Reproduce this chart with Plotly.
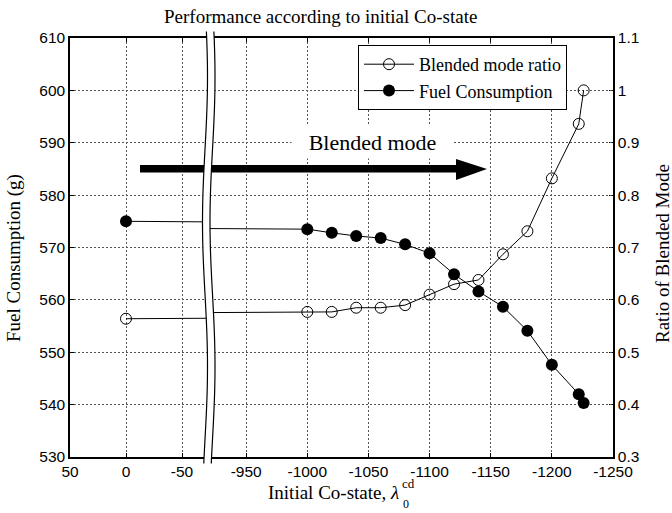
import math
import plotly.graph_objects as go

# ---------------- data ----------------
costate = [0, -1000, -1020, -1040, -1060, -1080, -1100, -1120, -1140, -1160, -1180, -1200, -1222, -1226]
fuel = [575.0, 573.5, 572.8, 572.2, 571.8, 570.6, 568.9, 564.9, 561.6, 558.7, 554.1, 547.6, 542.0, 540.3]
ratio = [0.564, 0.577, 0.577, 0.585, 0.585, 0.590, 0.610, 0.630, 0.638, 0.687, 0.731, 0.832, 0.936, 1.0]

left_ticks = [50, 0, -50]
right_ticks = [-950, -1000, -1050, -1100, -1150, -1200, -1250]
fuel_ticks = [530, 540, 550, 560, 570, 580, 590, 600, 610]
ratio_ticks = [0.3, 0.4, 0.5, 0.6, 0.7, 0.8, 0.9, 1.0, 1.1]
ratio_labels = ["0.3", "0.4", "0.5", "0.6", "0.7", "0.8", "0.9", "1", "1.1"]

# ---------------- layout geometry (pixels) ----------------
W, H = 672, 513
L, R, T, B = 70, 613, 38, 457
PW, PH = R - L, B - T


def xp(px):
    return (px - L) / PW


def yp(py):
    return 1 - (py - T) / PH


LEFT_END = 207.5     # px where left panel ends
RIGHT_START = 210.0  # px where right panel starts
left_range = [50, 50 - (LEFT_END - L) / 1.12]
right_range = [-1250 + (R - RIGHT_START) / 1.2228, -1250]

SERIF = "Liberation Serif, Times New Roman, serif"
SANS = "Liberation Sans, Arial, sans-serif"

fig = go.Figure()

open_marker = dict(symbol="circle-open", size=11, color="black", line=dict(width=1, color="black"))
fill_marker = dict(symbol="circle", size=12, color="black")

for xa, show in (("x", True), ("x2", False)):
    fig.add_trace(go.Scatter(x=costate, y=ratio, mode="lines+markers", name="Blended mode ratio",
                             line=dict(color="black", width=1), marker=open_marker,
                             xaxis=xa, yaxis="y2", showlegend=show, legendrank=1))
    fig.add_trace(go.Scatter(x=costate, y=fuel, mode="lines+markers", name="Fuel Consumption",
                             line=dict(color="black", width=1), marker=fill_marker,
                             xaxis=xa, yaxis="y", showlegend=show, legendrank=2))

grid = dict(showgrid=True, gridcolor="#555555", gridwidth=1, griddash="2px,2px")
axis_common = dict(showline=True, linecolor="black", linewidth=1.5, ticks="inside", ticklen=4,
                   tickcolor="black", tickfont=dict(family=SANS, size=15.5, color="black"),
                   zeroline=False)

fig.update_layout(
    width=W, height=H,
    margin=dict(l=L, r=W - R, t=T, b=H - B),
    paper_bgcolor="white", plot_bgcolor="white",
    hovermode=False,
    xaxis=dict(domain=[0, xp(LEFT_END)], range=left_range, tickvals=left_ticks,
               ticktext=[str(v) for v in left_ticks], mirror="ticks", anchor="y",
               **grid, **axis_common),
    xaxis2=dict(domain=[xp(RIGHT_START), 1], range=right_range, tickvals=right_ticks,
                ticktext=[str(v) for v in right_ticks], mirror="ticks", anchor="y",
                **grid, **axis_common),
    yaxis=dict(domain=[0, 1], range=[530, 610], tickvals=fuel_ticks, anchor="x", side="left",
               **grid, **axis_common),
    yaxis2=dict(range=[0.3, 1.1], tickvals=ratio_ticks, ticktext=ratio_labels, overlaying="y",
                anchor="x2", side="right", showgrid=False, **axis_common),
    legend=dict(x=xp(358), y=yp(45), xanchor="left", yanchor="top",
                bgcolor="white", bordercolor="black", borderwidth=1, itemwidth=50,
                font=dict(family=SERIF, size=18, color="black"), tracegroupgap=0),
    showlegend=True,
)

shapes = []
# arrow (bar + head)
shapes.append(dict(type="rect", xref="paper", yref="paper", x0=xp(140), x1=xp(457),
                   y0=yp(172.5), y1=yp(165), fillcolor="black", line=dict(width=0), layer="above"))
shapes.append(dict(type="path", xref="paper", yref="paper",
                   path=f"M {xp(456)} {yp(159)} L {xp(487)} {yp(169)} L {xp(456)} {yp(180)} Z",
                   fillcolor="black", line=dict(width=0), layer="above"))


# axis break: two wavy lines with white band between
def wave_pts(offset):
    pts = []
    y = 31.5
    while y <= 465.5:
        x = 205 + offset + 2.5 * math.sin(2 * math.pi * (y - 32) / 290 + 0.6)
        pts.append((x, y))
        y += 3
    return pts


left_w = wave_pts(0)
right_w = wave_pts(7.5)
band = "M " + " L ".join(f"{xp(x)} {yp(y)}" for x, y in left_w)
band += " L " + " L ".join(f"{xp(x)} {yp(y)}" for x, y in reversed(right_w)) + " Z"
shapes.append(dict(type="path", xref="paper", yref="paper", path=band,
                   fillcolor="white", line=dict(width=0), layer="above"))
for w in (left_w, right_w):
    p = "M " + " L ".join(f"{xp(x)} {yp(y)}" for x, y in w)
    shapes.append(dict(type="path", xref="paper", yref="paper", path=p,
                       line=dict(color="black", width=1.2), layer="above"))
fig.update_layout(shapes=shapes)

ann = []
ann.append(dict(text="Performance according to initial Co-state", x=xp(320), y=yp(16),
                xref="paper", yref="paper", showarrow=False, xanchor="center", yanchor="middle",
                font=dict(family=SERIF, size=19, color="black")))
ann.append(dict(text="Blended mode", x=xp(372.5), y=yp(142), xref="paper", yref="paper",
                showarrow=False, xanchor="center", yanchor="middle", bgcolor="white",
                width=159, height=30, font=dict(family=SERIF, size=22, color="black")))
ann.append(dict(text="Fuel Consumption (g)", x=xp(14), y=yp(258), xref="paper", yref="paper",
                showarrow=False, textangle=-90, xanchor="center", yanchor="middle",
                font=dict(family=SERIF, size=19, color="black")))
ann.append(dict(text="Ratio of Blended Mode", x=xp(662), y=yp(254), xref="paper", yref="paper",
                showarrow=False, textangle=-90, xanchor="center", yanchor="middle",
                font=dict(family=SERIF, size=19, color="black")))
ann.append(dict(text="Initial Co-state, <i>λ</i>", x=xp(401), y=yp(492), xref="paper", yref="paper",
                showarrow=False, xanchor="right", yanchor="middle",
                font=dict(family=SERIF, size=19, color="black")))
ann.append(dict(text="cd", x=xp(400), y=yp(484), xref="paper", yref="paper",
                showarrow=False, xanchor="left", yanchor="middle",
                font=dict(family=SERIF, size=13, color="black")))
ann.append(dict(text="0", x=xp(401), y=yp(504), xref="paper", yref="paper",
                showarrow=False, xanchor="left", yanchor="middle",
                font=dict(family=SERIF, size=12, color="black")))
fig.update_layout(annotations=ann)

fig.write_html("out.html")
